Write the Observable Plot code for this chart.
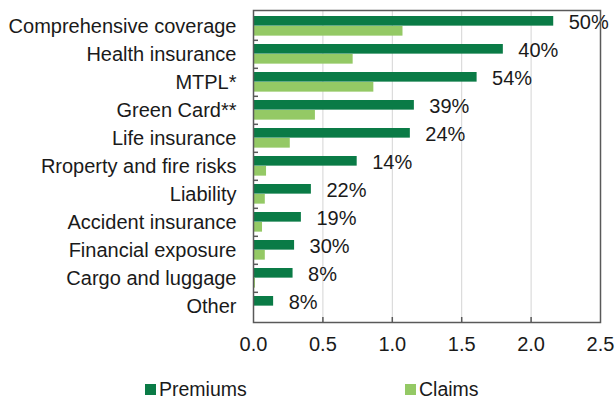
<!DOCTYPE html>
<html>
<head>
<meta charset="utf-8">
<script src="https://cdn.jsdelivr.net/npm/d3@7"></script>
<script src="https://cdn.jsdelivr.net/npm/@observablehq/plot@0.6"></script>
<style>
  html, body { margin: 0; padding: 0; background: #fff; }
  body { width: 616px; height: 400px; overflow: hidden; font-family: "Liberation Sans", Arial, sans-serif; }
  #chart svg { display: block; }
  .legend { position: relative; height: 30px; font-size: 19.5px; color: #1a1a1a; }
  .legend .item { position: absolute; top: 9px; display: flex; align-items: center; line-height: 20px; }
  .legend .sw { width: 11px; height: 11px; margin-right: 3px; }
</style>
</head>
<body>
<div id="chart"></div>
<script>
const categories = [
  "Comprehensive coverage", "Health insurance", "MTPL*", "Green Card**",
  "Life insurance", "Rroperty and fire risks", "Liability", "Accident insurance",
  "Financial exposure", "Cargo and luggage", "Other"
];
const premiums = [2.163, 1.80, 1.611, 1.159, 1.13, 0.747, 0.417, 0.345, 0.296, 0.285, 0.145];
const claims   = [1.077, 0.718, 0.867, 0.446, 0.265, 0.094, 0.085, 0.065, 0.085, 0.014, 0.004];
const shares   = ["50%", "40%", "54%", "39%", "24%", "14%", "22%", "19%", "30%", "8%", "8%"];
const xTicks   = [0, 0.5, 1, 1.5, 2, 2.5];
const seriesNames = ["Premiums", "Claims"];
const seriesColors = ["#0a7b46", "#94c965"];

const data = categories.map((c, i) => ({category: c, premium: premiums[i], claim: claims[i], share: shares[i]}));

const width = 616, height = 370;
const marginLeft = 253, marginRight = 16, marginTop = 10, marginBottom = 48;
const innerH = height - marginTop - marginBottom;
const innerW = width - marginLeft - marginRight;
const band = innerH / categories.length;

const chart = Plot.plot({
  width, height, marginLeft, marginRight, marginTop, marginBottom,
  style: {fontFamily: "'Liberation Sans', Arial, sans-serif", fontSize: "20px", color: "#1a1a1a", background: "#fff"},
  x: {domain: [0, 2.5], ticks: xTicks, tickFormat: d3.format(".1f")},
  y: {domain: categories, padding: 0},
  marks: [
    Plot.ruleX(xTicks.slice(1, -1), {x: d => d, stroke: "#d4d4d4", strokeWidth: 1}),
    Plot.barX(data, {x: "premium", y: "category", fill: seriesColors[0], insetTop: 4, insetBottom: band - 14}),
    Plot.barX(data, {x: "claim", y: "category", fill: seriesColors[1], insetTop: 14, insetBottom: band - 24}),
    Plot.text(data, {x: "premium", y: "category", text: "share", textAnchor: "start", dx: 15, dy: -4, fontSize: 20, fill: "#1a1a1a"}),
    Plot.tickY(categories.slice(1), {y: d => d, dy: -band / 2, insetRight: innerW - 5, stroke: "#595959", strokeWidth: 1.5}),
    Plot.tickX(xTicks.slice(1, -1), {x: d => d, insetTop: innerH - 5, stroke: "#595959", strokeWidth: 1.5}),
    Plot.frame({stroke: "#595959", strokeWidth: 1.5}),
    Plot.axisY({tickSize: 0, tickPadding: 17, label: null, fill: "#1a1a1a", fontSize: 20}),
    Plot.axisX({ticks: xTicks, tickSize: 0, tickPadding: 14, label: null, tickFormat: d3.format(".1f"), fill: "#1a1a1a", fontSize: 20})
  ]
});
document.getElementById("chart").appendChild(chart);

const legend = document.createElement("div");
legend.className = "legend";
const lefts = [145, 405];
seriesNames.forEach((name, i) => {
  const item = document.createElement("div");
  item.className = "item";
  item.style.left = lefts[i] + "px";
  const sw = document.createElement("span");
  sw.className = "sw";
  sw.style.background = seriesColors[i];
  const label = document.createElement("span");
  label.textContent = name;
  item.appendChild(sw);
  item.appendChild(label);
  legend.appendChild(item);
});
document.body.appendChild(legend);
</script>
</body>
</html>
